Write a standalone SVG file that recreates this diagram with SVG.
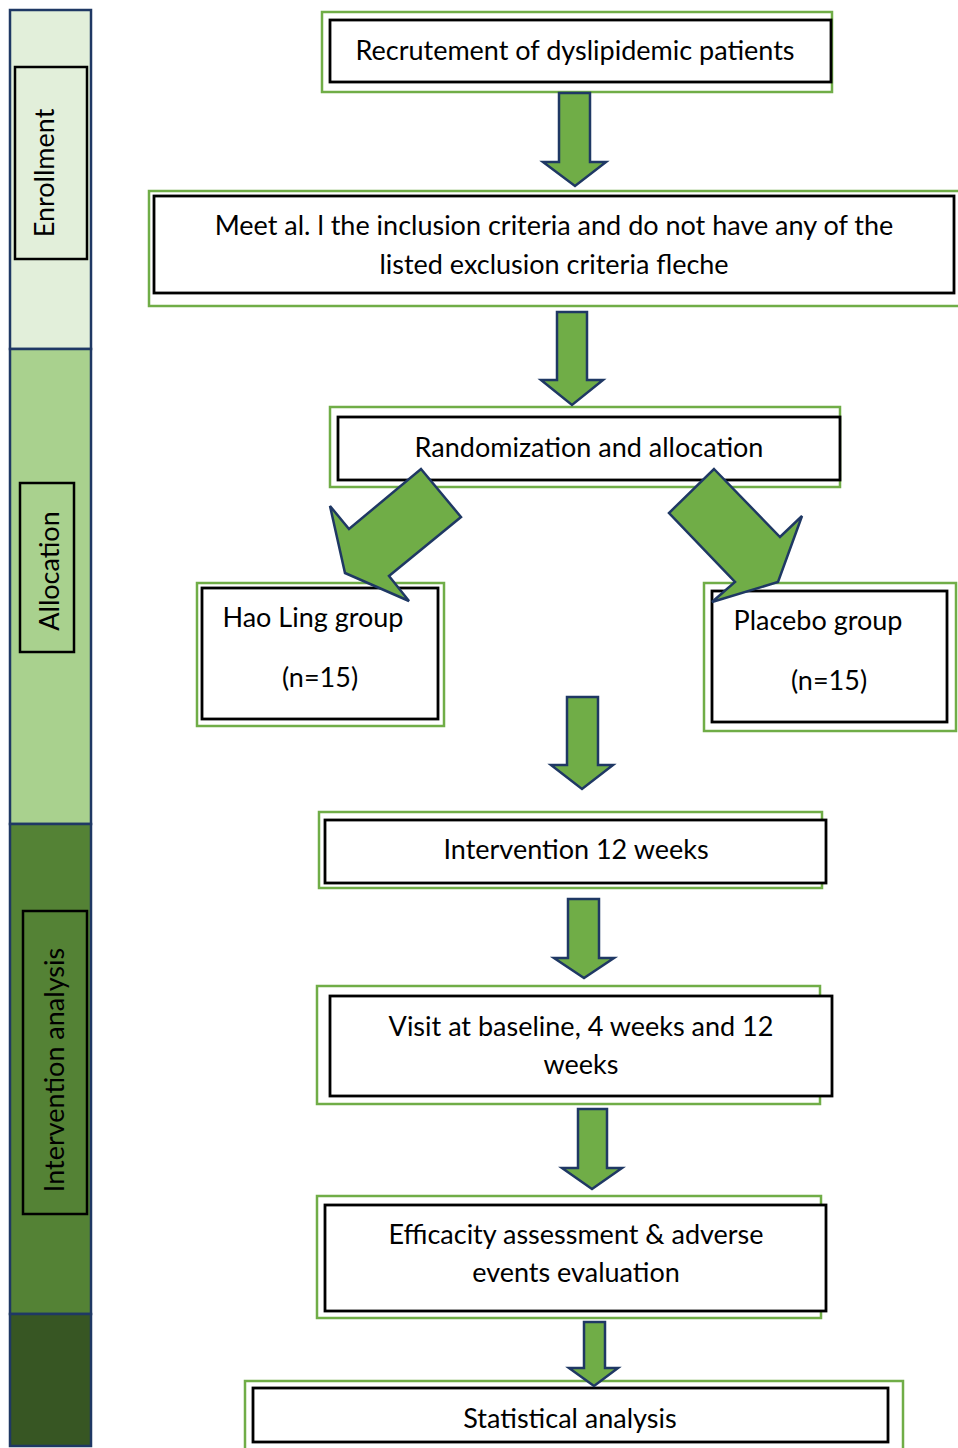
<svg xmlns="http://www.w3.org/2000/svg" width="958" height="1448" viewBox="0 0 958 1448">
<style>
.g{fill:#fff;stroke:#70ad47;stroke-width:2.5}
.b{fill:#fff;stroke:#000;stroke-width:2.8}
.t{font-family:Lato,"Liberation Sans",sans-serif;font-size:27px;fill:#000;text-anchor:middle}
.bar{stroke:#1f3864;stroke-width:2.5}
.lb{fill:none;stroke:#000;stroke-width:2.5}
.ar{fill:#70ad47;stroke:#1f3864;stroke-width:2.5;stroke-linejoin:miter}
</style>
<rect width="958" height="1448" fill="#fff"/>
<g id="phase-bar">
<rect class="bar" x="10" y="10" width="81" height="339" fill="#e2efda"/>
<rect class="bar" x="10" y="349" width="81" height="475" fill="#a9d18e"/>
<rect class="bar" x="10" y="824" width="81" height="490" fill="#548235"/>
<rect class="bar" x="10" y="1314" width="81" height="132" fill="#375623"/>
</g>
<g id="label-enrollment">
<rect class="lb" x="15" y="67" width="72" height="192"/>
<text class="t" transform="translate(54,173) rotate(-90)">Enrollment</text>
</g>
<g id="label-allocation">
<rect class="lb" x="20" y="483" width="54" height="169"/>
<text class="t" transform="translate(59,571) rotate(-90)">Allocation</text>
</g>
<g id="label-intervention">
<rect class="lb" x="23" y="911" width="64" height="303"/>
<text class="t" transform="translate(64,1070) rotate(-90)">Intervention analysis</text>
</g>
<g id="n-recrutement">
<rect class="g" x="322" y="12" width="510" height="80"/>
<rect class="b" x="330" y="20" width="501" height="62"/>
<text class="t" x="575" y="60">Recrutement of dyslipidemic patients</text>
</g>
<g id="n-criteria">
<rect class="g" x="149" y="191" width="812" height="115"/>
<rect class="b" x="154" y="196" width="800" height="97"/>
<text class="t" x="554" y="235">Meet al. l the inclusion criteria and do not have any of the</text>
<text class="t" x="554" y="274">listed exclusion criteria fleche</text>
</g>
<g id="n-random">
<rect class="g" x="330" y="407" width="510" height="80"/>
<rect class="b" x="338" y="417" width="502" height="63"/>
<text class="t" x="589" y="457">Randomization and allocation</text>
</g>
<g id="n-haoling">
<rect class="g" x="197" y="583" width="247" height="143"/>
<rect class="b" x="202" y="588" width="236" height="131"/>
<text class="t" x="313" y="627">Hao Ling group</text>
<text class="t" x="320" y="687">(n=15)</text>
</g>
<g id="n-placebo">
<rect class="g" x="704" y="583" width="252" height="148"/>
<rect class="b" x="712" y="591" width="235" height="131"/>
<text class="t" x="818" y="630">Placebo group</text>
<text class="t" x="829" y="690">(n=15)</text>
</g>
<g id="n-intervention">
<rect class="g" x="319" y="812" width="503" height="76"/>
<rect class="b" x="325" y="820" width="501" height="63"/>
<text class="t" x="576" y="859">Intervention 12 weeks</text>
</g>
<g id="n-visit">
<rect class="g" x="317" y="986" width="503" height="118"/>
<rect class="b" x="330" y="996" width="502" height="100"/>
<text class="t" x="581" y="1036">Visit at baseline, 4 weeks and 12</text>
<text class="t" x="581" y="1074">weeks</text>
</g>
<g id="n-efficacy">
<rect class="g" x="317" y="1196" width="504" height="122"/>
<rect class="b" x="325" y="1205" width="501" height="106"/>
<text class="t" x="576" y="1244">Efficacity assessment &amp; adverse</text>
<text class="t" x="576" y="1282">events evaluation</text>
</g>
<g id="n-stats">
<rect class="g" x="245" y="1381" width="658" height="72"/>
<rect class="b" x="253" y="1388" width="635" height="54"/>
<text class="t" x="570" y="1428">Statistical analysis</text>
</g>
<g id="connectors">
<polygon class="ar" points="559,93 590,93 590,162 606,162 575,186 543,162 559,162"/>
<polygon class="ar" points="557,312 587,312 587,380 603,380 572,405 541,380 557,380"/>
<polygon class="ar" points="421,469 461,517 389,576 409,601 345,573 330,506 349,529"/>
<polygon class="ar" points="714,469 780,537 802,516 778,582 712,602 735,582 669,513"/>
<polygon class="ar" points="567,697 598,697 598,765 613,765 582,789 551,765 567,765"/>
<polygon class="ar" points="568,899 599,899 599,958 614,958 584,978 554,958 568,958"/>
<polygon class="ar" points="578,1109 607,1109 607,1168 622,1168 592,1189 562,1168 578,1168"/>
<polygon class="ar" points="584,1322 605,1322 605,1368 618,1368 594,1386 569,1368 584,1368"/>
</g>
</svg>
